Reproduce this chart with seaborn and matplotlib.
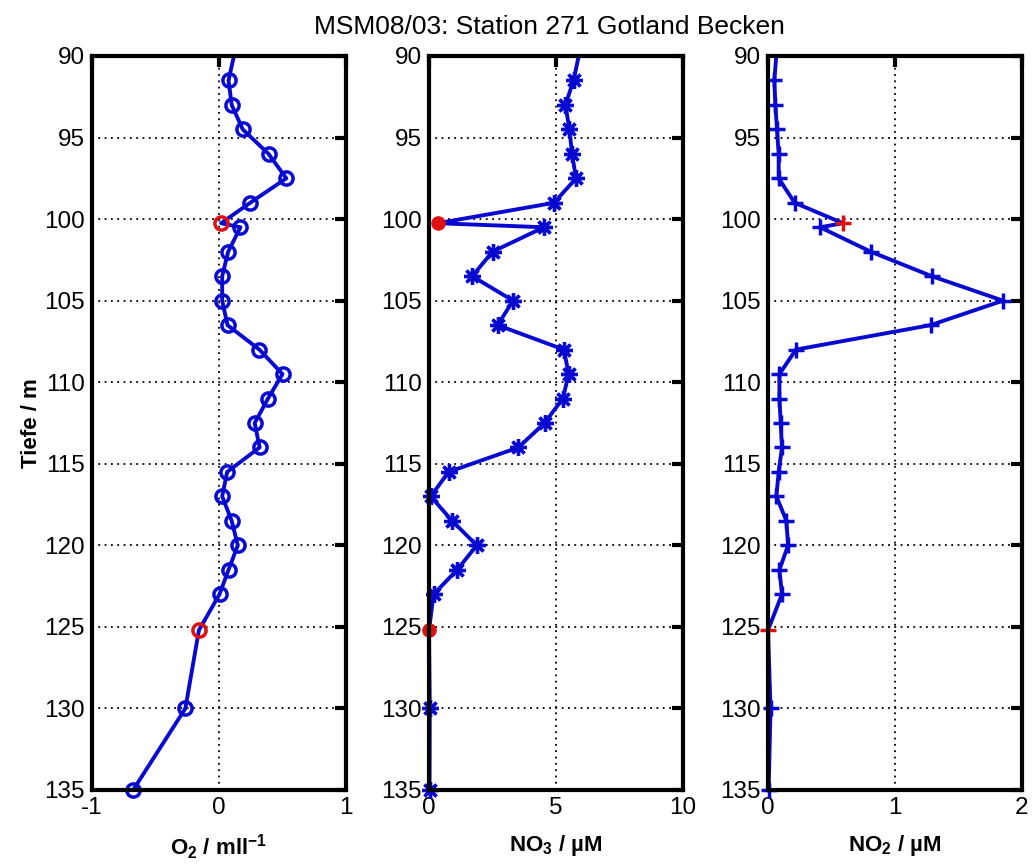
import numpy as np
import pandas as pd
import matplotlib
matplotlib.use("Agg")
import matplotlib.pyplot as plt
import seaborn as sns

# depth levels (m); 100.25 and 125.2 are the bottle samples drawn in red
depth = [88.5, 91.5, 93, 94.5, 96, 97.5, 99, 100.25, 100.5, 102, 103.5, 105, 106.5,
         108, 109.5, 111, 112.5, 114, 115.5, 117, 118.5, 120, 121.5, 123, 125.2, 130, 135]
red_depths = [100.25, 125.2]

o2 = [0.16, 0.075, 0.10, 0.187, 0.39, 0.53, 0.245, 0.017, 0.169, 0.072, 0.025, 0.025, 0.067,
      0.318, 0.50, 0.386, 0.281, 0.32, 0.064, 0.025, 0.10, 0.148, 0.075, 0.004, -0.158, -0.265, -0.676]
no3 = [6.1, 5.69, 5.37, 5.53, 5.63, 5.79, 4.92, 0.35, 4.52, 2.50, 1.70, 3.31, 2.70,
       5.31, 5.50, 5.27, 4.55, 3.52, 0.77, 0.07, 0.91, 1.88, 1.11, 0.18, 0.0, 0.03, 0.02]
no2 = [0.08, 0.05, 0.058, 0.071, 0.084, 0.084, 0.21, 0.59, 0.41, 0.81, 1.29, 1.85, 1.28,
       0.22, 0.09, 0.09, 0.10, 0.11, 0.084, 0.066, 0.145, 0.158, 0.09, 0.11, 0.0, 0.02, 0.005]

xlims = [(-1, 1), (0, 10), (0, 2)]
xticks = [[-1, 0, 1], [0, 5, 10], [0, 1, 2]]
xlabels = [r"O$_2$ / mll$^{-1}$", r"NO$_3$ / µM", r"NO$_2$ / µM"]
yticks = [90, 95, 100, 105, 110, 115, 120, 125, 130, 135]
title = "MSM08/03: Station 271 Gotland Becken"

sns.set_style("white")
plt.rcParams["font.family"] = ["Liberation Sans", "DejaVu Sans"]
plt.rcParams["mathtext.fontset"] = "custom"
plt.rcParams["mathtext.rm"] = "Liberation Sans"
plt.rcParams["mathtext.bf"] = "Liberation Sans:bold"
plt.rcParams["mathtext.default"] = "bf"
plt.rcParams["axes.unicode_minus"] = False
plt.rcParams["text.color"] = "black"
plt.rcParams["axes.labelcolor"] = "black"
plt.rcParams["xtick.color"] = "black"
plt.rcParams["ytick.color"] = "black"

df = pd.DataFrame({"depth": depth, "o2": o2, "no3": no3, "no2": no2})
df["red"] = df["depth"].isin(red_depths)
shown = df[(df["depth"] >= 90) & (df["depth"] <= 135)]

blue = "#0808d0"
red = "#e01010"
fig = plt.figure(figsize=(10.35, 8.67), dpi=100)
lefts = [92, 429, 768]
axes = [fig.add_axes([l / 1035, 77 / 867, 254 / 1035, 734 / 867]) for l in lefts]

styles = [
    dict(marker="o", mfc="none", ms=9.5, mew=2.5),
    dict(marker=(8, 2, 0), mfc=blue, ms=12, mew=2.4),
    dict(marker="+", mfc=blue, ms=12, mew=2.5),
]
red_styles = [
    dict(marker="o", mfc="none", ms=9.5, mew=2.5, color=red),
    dict(marker="o", mfc=red, ms=10.5, mew=0, color=red),
    dict(marker="+", ms=12, mew=2.5, color=red),
]

for i, (ax, col) in enumerate(zip(axes, ["o2", "no3", "no2"])):
    sns.lineplot(data=df, x=col, y="depth", orient="y", estimator=None, sort=False,
                 color=blue, lw=2.8, ax=ax, zorder=3)
    st = styles[i]
    ax.plot(shown.loc[~shown["red"], col], shown.loc[~shown["red"], "depth"], ls="none",
            color=blue, marker=st["marker"], mfc=st["mfc"], ms=st["ms"], mew=st["mew"],
            clip_on=False, zorder=4)
    rs = red_styles[i]
    ax.plot(shown.loc[shown["red"], col], shown.loc[shown["red"], "depth"], ls="none",
            clip_on=False, zorder=5, **rs)

    ax.set_xlim(*xlims[i])
    ax.set_ylim(135, 90)
    ax.set_xticks(xticks[i])
    ax.set_yticks(yticks)
    ax.grid(True, linestyle=(0, (1, 2.5)), color="black", linewidth=1.3)
    ax.set_axisbelow(True)
    ax.tick_params(direction="in", top=True, right=True, length=8, width=3,
                   labelsize=17.5, pad=5)
    for sp in ax.spines.values():
        sp.set_linewidth(3)
        sp.set_color("black")
        sp.set_zorder(6)
    ax.set_xlabel(xlabels[i], fontsize=16, fontweight="bold", labelpad=10)
    ax.set_ylabel("")

axes[0].set_ylabel("Tiefe / m", fontsize=16, fontweight="bold", labelpad=2)
fig.text(549 / 1035, 1 - 27 / 867, title, ha="center", va="center", fontsize=19)

fig.savefig("out.png", dpi=100)
